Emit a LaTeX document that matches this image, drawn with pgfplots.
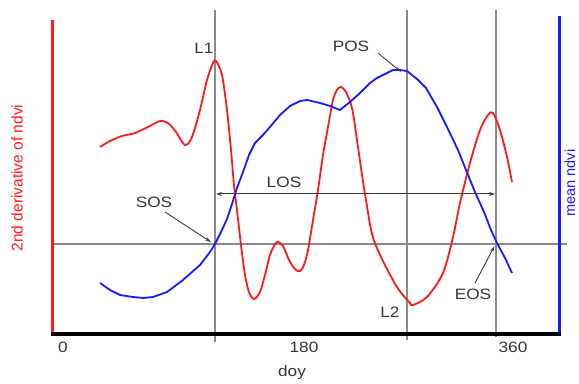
\documentclass[border=0pt]{standalone}
\usepackage{pgfplots}
\pgfplotsset{compat=1.18}
\usepackage{fontspec}
\setmainfont{Liberation Sans}[FakeStretch=1.15]
\newfontfamily\plainsf{Liberation Sans}
\usetikzlibrary{arrows.meta}
\definecolor{txt}{HTML}{333333}
\definecolor{gline}{HTML}{8A8A8A}
\definecolor{aline}{HTML}{3A3A3A}
\definecolor{cred}{HTML}{FF1A1A}
\definecolor{cblue}{HTML}{1A1AFF}
\begin{document}
\begin{tikzpicture}
\useasboundingbox (-53bp,-50bp) rectangle (526bp,334bp);
\begin{axis}[
  at={(0,0)}, anchor=south west,
  scale only axis, width=506bp, height=318bp,
  xmin=-8, xmax=396.8, ymin=50, ymax=368,
  enlargelimits=false, clip=false,
  axis line style={draw=none},
  ytick=\empty,
  xtick={0,192.8,360}, xticklabels={0,180,360},
  major tick length=0pt,
  xticklabel style={anchor=center, yshift=-13bp, text=txt, font=\fontsize{15bp}{18bp}\selectfont},
]
% reference lines
\draw[gline, line width=1.4bp] (axis cs:121.6,42) -- (axis cs:121.6,374);
\draw[gline, line width=1.4bp] (axis cs:275.2,44) -- (axis cs:275.2,374);
\draw[gline, line width=1.4bp] (axis cs:346.4,47) -- (axis cs:346.4,374);
\draw[gline, line width=1.2bp] (axis cs:-8,140) -- (axis cs:403.2,140);
% axis lines
\draw[cred, line width=3bp] (axis cs:-8,50) -- (axis cs:-8,364);
\draw[cblue, line width=3bp] (axis cs:396.8,50) -- (axis cs:396.8,368);
\draw[black, line width=3.5bp] (axis cs:-9.2,50) -- (axis cs:398,50);
% 2nd derivative of ndvi
\addplot[cred, line width=1.8bp, smooth, tension=0.5] coordinates {
(29.6,237) (37.6,243) (47.2,248) (57.6,251) (68.0,257) (77.6,263) (84.0,261)
(90.4,252) (97.6,239) (103.2,247) (109.6,274) (115.2,304) (120.0,321) (122.4,323)
(127.2,309) (131.2,274) (134.4,234) (136.8,199) (139.2,174) (142.4,139) (145.6,109)
(148.8,92) (152.8,85) (157.6,92) (161.6,109) (165.6,129) (169.6,140) (172.0,142)
(176.0,138) (181.6,122) (186.4,114) (189.6,113) (192.8,119) (196.0,134) (200.0,164)
(204.0,194) (208.0,229) (212.0,257) (216.0,284) (219.2,294) (222.4,297) (226.4,292)
(231.2,276) (235.2,244) (239.2,209) (242.4,184) (247.2,150) (254.4,127) (267.2,97)
(277.6,81) (280.0,79) (291.2,87) (304.0,111) (312.0,147) (317.6,181) (325.6,221)
(333.6,254) (340.0,269) (344.0,271) (349.6,254) (355.2,227) (359.2,202)
};
% mean ndvi
\addplot[cblue, line width=1.8bp] coordinates {
(29.6,101) (37.6,94) (45.6,89) (56.0,87) (64.0,86) (72.0,87) (83.2,92) (96.0,104)
(109.6,119) (117.6,132) (121.6,140) (126.4,152) (131.2,165) (135.2,180) (139.2,196)
(144.0,212) (148.8,229) (153.6,241) (160.0,249) (165.6,257) (173.6,269) (181.6,278)
(189.6,283) (195.2,284) (205.6,281) (213.6,278) (221.6,274) (229.6,282) (237.6,291)
(245.6,301) (251.2,306) (257.6,310) (264.0,314) (269.6,314) (275.2,313) (283.2,305)
(290.4,296) (299.2,277) (307.2,257) (316.0,234) (322.4,214) (329.6,192) (336.8,172)
(342.4,154) (347.2,141) (353.6,126) (359.2,111)
};
% annotations
\draw[aline, line width=1bp, {Stealth[length=6bp,width=4bp]}-{Stealth[length=6bp,width=4bp]}] (axis cs:122.4,190) -- (axis cs:345.6,190);
\draw[aline, line width=0.9bp, -{Stealth[length=6bp,width=3.5bp]}] (axis cs:81.6,172) -- (axis cs:118.4,142);
\draw[aline, line width=0.9bp, -{Stealth[length=6bp,width=3.5bp]}] (axis cs:329.6,101) -- (axis cs:345.2,138);
\draw[aline, line width=0.9bp, -{Stealth[length=6bp,width=3.5bp]}] (axis cs:252,331) -- (axis cs:270.4,312);
\begin{scope}[every node/.style={text=txt, font=\fontsize{15bp}{18bp}\selectfont, inner sep=0pt}]
\node at (axis cs:112.8,335.5) {L1};
\node at (axis cs:230.4,338) {POS};
\node at (axis cs:176.8,202) {LOS};
\node at (axis cs:72.8,182) {SOS};
\node at (axis cs:328,90) {EOS};
\node at (axis cs:261.6,72) {L2};
\node at (axis cs:183.2,11) {doy};
\end{scope}
\node[rotate=90, text=cred, inner sep=0pt, font=\plainsf\fontsize{15.5bp}{18bp}\selectfont] at (axis cs:-36.8,206) {2nd derivative of ndvi};
\node[rotate=90, text=cblue, inner sep=0pt, font=\plainsf\fontsize{14.5bp}{18bp}\selectfont] at (axis cs:405.6,201) {mean ndvi};
\end{axis}
\end{tikzpicture}
\end{document}
